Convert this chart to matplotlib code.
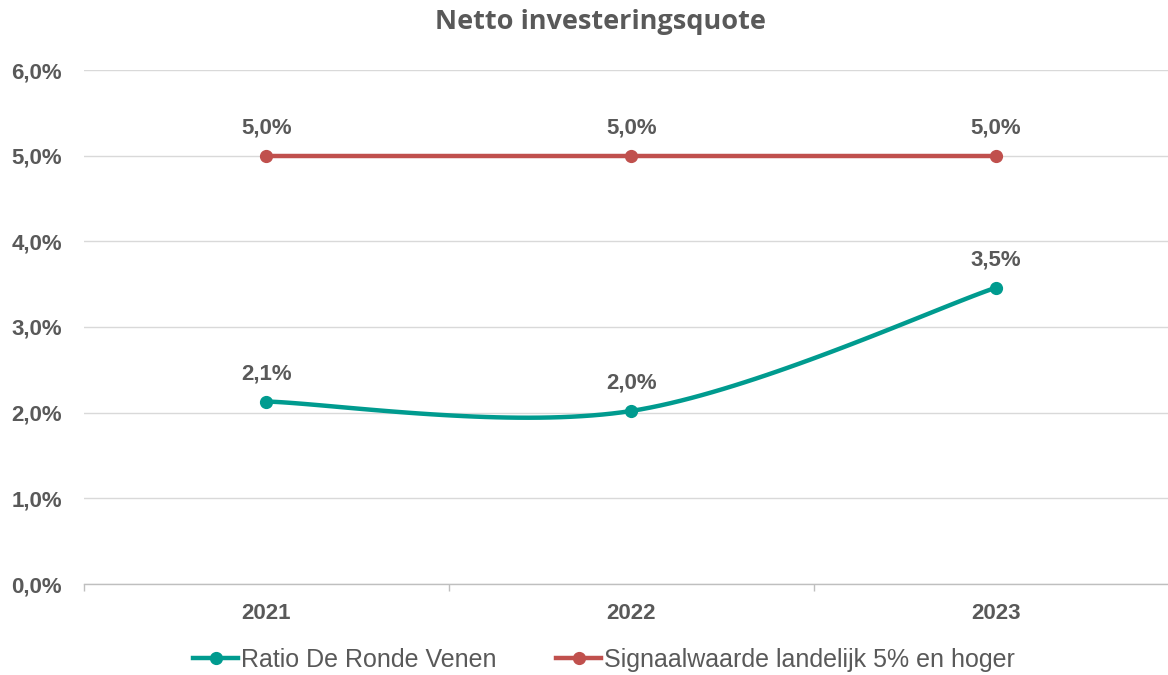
import numpy as np
import matplotlib.pyplot as plt
from matplotlib.ticker import FuncFormatter

years = ['2021', '2022', '2023']
ratio = [2.13, 2.02, 3.46]
signal = [5.0, 5.0, 5.0]
ratio_labels = ['2,1%', '2,0%', '3,5%']
signal_labels = ['5,0%', '5,0%', '5,0%']

teal = '#009B8F'
red = '#C0504D'
grey = '#595959'

plt.rcParams['font.family'] = ['Liberation Sans', 'DejaVu Sans']


def smooth(xs, ys, n=40):
    # Excel-style smoothed line: cubic Bezier with Catmull-Rom control points
    pts = np.column_stack([xs, ys]).astype(float)
    out = [pts[0]]
    for i in range(len(pts) - 1):
        p0 = pts[i - 1] if i > 0 else pts[i]
        p1, p2 = pts[i], pts[i + 1]
        p3 = pts[i + 2] if i + 2 < len(pts) else pts[i + 1]
        c1 = p1 + (p2 - p0) / 6
        c2 = p2 - (p3 - p1) / 6
        t = np.linspace(0, 1, n)[1:, None]
        seg = (1 - t) ** 3 * p1 + 3 * (1 - t) ** 2 * t * c1 + 3 * (1 - t) * t ** 2 * c2 + t ** 3 * p2
        out.extend(seg)
    out = np.array(out)
    return out[:, 0], out[:, 1]


fig = plt.figure(figsize=(11.68, 6.75), dpi=100)
ax = fig.add_axes([84 / 1168, 1 - 584 / 675, (1178.5 - 84) / 1168, (584 - 70) / 675])

x = np.arange(len(years))
sx, sy = smooth(x, ratio)
ax.plot(sx, sy, color=teal, lw=3.2, solid_capstyle='round', zorder=3)
ax.plot(x, ratio, 'o', color=teal, ms=8.5, zorder=4)
ax.plot(x, signal, color=red, lw=3.2, marker='o', ms=8.5, zorder=3)

# legend proxies
ax.plot([], [], color=teal, lw=3.2, marker='o', ms=8.5, label='Ratio De Ronde Venen')
ax.plot([], [], color=red, lw=3.2, marker='o', ms=8.5, label='Signaalwaarde landelijk 5% en hoger')

for xi, v, s in zip(x, ratio, ratio_labels):
    ax.annotate(s, (xi, v), xytext=(0, 20), textcoords='offset points', ha='center', va='center',
                fontsize=16, fontweight='bold', color=grey)
for xi, v, s in zip(x, signal, signal_labels):
    ax.annotate(s, (xi, v), xytext=(0, 20), textcoords='offset points', ha='center', va='center',
                fontsize=16, fontweight='bold', color=grey)

ax.set_xlim(-0.5, 2.5)
ax.set_ylim(0, 6)
ax.set_yticks(np.arange(0, 7, 1))
ax.yaxis.set_major_formatter(FuncFormatter(lambda v, p: f'{v:.1f}%'.replace('.', ',')))
ax.set_xticks(x)
ax.set_xticklabels(years)
ax.set_xticks([-0.5, 0.5, 1.5, 2.5], minor=True)
ax.tick_params(axis='x', which='major', length=0, pad=14, labelsize=16, labelcolor=grey)
ax.tick_params(axis='x', which='minor', length=5, width=1, color='#bfbfbf')
ax.tick_params(axis='y', length=0, pad=16, labelsize=16, labelcolor=grey)
for lab in ax.get_xticklabels() + ax.get_yticklabels():
    lab.set_fontweight('bold')

ax.grid(axis='y', color='#d9d9d9', lw=1)
ax.set_axisbelow(True)
for sp in ['top', 'right', 'left']:
    ax.spines[sp].set_visible(False)
ax.spines['bottom'].set_color('#bfbfbf')
ax.spines['bottom'].set_linewidth(1)

fig.text(600 / 1168, 1 - 22 / 675, 'Netto investeringsquote', ha='center', va='center',
         fontsize=19.5, fontweight='bold', color=grey, family=['Open Sans', 'DejaVu Sans'])

leg = fig.legend(loc='center', bbox_to_anchor=(604 / 1168, 1 - 660 / 675), ncol=2, frameon=False,
                 fontsize=18, handlelength=1.8, handletextpad=0.1, columnspacing=2.4)
for t in leg.get_texts():
    t.set_color(grey)

fig.savefig('out.png', dpi=100)
